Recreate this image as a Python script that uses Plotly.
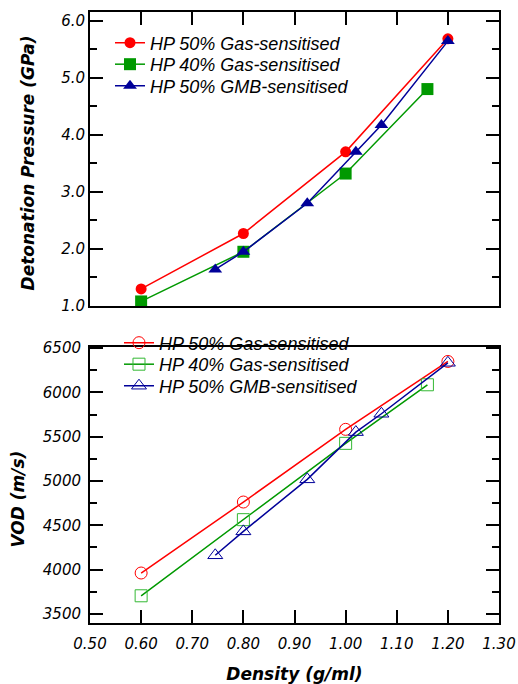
import plotly.graph_objects as go
from plotly.subplots import make_subplots

# ---- data ----
series_names = ["HP 50% Gas-sensitised", "HP 40% Gas-sensitised", "HP 50% GMB-sensitised"]

density_50gas = [0.60, 0.80, 1.00, 1.20]
density_40gas = [0.60, 0.80, 1.00, 1.16]
density_50gmb = [0.745, 0.80, 0.925, 1.02, 1.07, 1.20]

pressure_50gas = [1.30, 2.27, 3.70, 5.68]
pressure_40gas = [1.08, 1.95, 3.32, 4.80]
pressure_50gmb = [1.64, 1.95, 2.80, 3.70, 4.17, 5.64]

vod_50gas = [3962, 4763, 5583, 6349]
vod_40gas = [3705, 4564, 5425, 6086]
vod_50gmb = [4162, 4432, 5019, 5552, 5759, 6334]

x_ticks = [0.50, 0.60, 0.70, 0.80, 0.90, 1.00, 1.10, 1.20, 1.30]
p_ticks = [1.0, 2.0, 3.0, 4.0, 5.0, 6.0]
v_ticks = [3500, 4000, 4500, 5000, 5500, 6000, 6500]

RED = "#ff0000"
GREEN = "#009900"
BLUE = "#000099"

fig = make_subplots(rows=2, cols=1)

tick_font = dict(family="DejaVu Sans", size=15, color="black", style="italic")
def tfont(size):
    return dict(family="DejaVu Sans", size=size, color="black", style="italic", weight="bold")
leg_font = dict(family="Liberation Sans", size=18, color="black", style="italic")

# top panel (filled markers)
fig.add_trace(go.Scatter(x=density_50gas, y=pressure_50gas, name=series_names[0], mode="lines+markers",
                         line=dict(color=RED, width=1.5), marker=dict(symbol="circle", size=11, color=RED),
                         legend="legend"), row=1, col=1)
fig.add_trace(go.Scatter(x=density_40gas, y=pressure_40gas, name=series_names[1], mode="lines+markers",
                         line=dict(color=GREEN, width=1.5), marker=dict(symbol="square", size=12, color=GREEN),
                         legend="legend2"), row=1, col=1)
fig.add_trace(go.Scatter(x=density_50gmb, y=pressure_50gmb, name=series_names[2], mode="lines+markers",
                         line=dict(color=BLUE, width=1.5), marker=dict(symbol="triangle-up", size=12, color=BLUE),
                         legend="legend3"), row=1, col=1)

# bottom panel (open markers)
fig.add_trace(go.Scatter(x=density_50gas, y=vod_50gas, name=series_names[0], mode="lines+markers",
                         line=dict(color=RED, width=1.5),
                         marker=dict(symbol="circle-open", size=12, color=RED, line=dict(width=1)),
                         legend="legend4"), row=2, col=1)
fig.add_trace(go.Scatter(x=density_40gas, y=vod_40gas, name=series_names[1], mode="lines+markers",
                         line=dict(color=GREEN, width=1.5),
                         marker=dict(symbol="square-open", size=12, color="#33b833", line=dict(width=1)),
                         legend="legend5"), row=2, col=1)
fig.add_trace(go.Scatter(x=density_50gmb, y=vod_50gmb, name=series_names[2], mode="lines+markers",
                         line=dict(color=BLUE, width=1.5),
                         marker=dict(symbol="triangle-up-open", size=13, color=BLUE, line=dict(width=1)),
                         legend="legend6"), row=2, col=1)

common_axis = dict(showline=True, linecolor="black", linewidth=2, mirror=True, showgrid=False,
                   zeroline=False, ticks="inside", ticklen=13, tickwidth=1.5, tickcolor="black",
                   automargin=False)

fig.update_xaxes(**common_axis)
fig.update_yaxes(**common_axis)

def leg(x, y):
    return dict(x=x, y=y, xanchor="left", yanchor="middle", bgcolor="rgba(0,0,0,0)",
                font=leg_font, itemwidth=30)

fig.update_layout(
    width=518, height=684,
    margin=dict(l=90, r=19, t=12, b=61),
    paper_bgcolor="white", plot_bgcolor="white",
    xaxis=dict(domain=[0, 1], range=[0.5, 1.3], tickvals=x_ticks, side="top",
               showticklabels=False, mirror=True, anchor="y"),
    yaxis=dict(domain=[0.5188, 1.0], range=[1.0, 6.15], tickvals=p_ticks,
               ticktext=[f"{v:.1f}" for v in p_ticks], tickfont=tick_font, mirror="allticks",
               minor=dict(dtick=0.5, ticks="inside", ticklen=7, tickwidth=1.5, tickcolor="black")),
    xaxis2=dict(domain=[0, 1], range=[0.5, 1.3], tickvals=x_ticks, ticklabelstandoff=6,
                ticktext=[f"{v:.2f}" for v in x_ticks], tickfont=tick_font, anchor="y2",
                title=dict(text="Density (g/ml)", font=tfont(17), standoff=20)),
    yaxis2=dict(domain=[0, 0.4517], range=[3398, 6512], tickvals=v_ticks, ticklabelstandoff=4,
                ticktext=[str(v) for v in v_ticks], tickfont=tick_font, mirror="allticks",
                minor=dict(dtick=250, ticks="inside", ticklen=7, tickwidth=1.5, tickcolor="black")),
    legend=leg(0.0489, 0.9493),
    legend2=leg(0.0489, 0.9141),
    legend3=leg(0.0489, 0.8789),
    legend4=leg(0.0709, 0.4583),
    legend5=leg(0.0709, 0.4231),
    legend6=leg(0.0709, 0.3879),
    showlegend=True,
)

# y-axis titles placed as annotations (matching the reference positions)
fig.add_annotation(text="Detonation Pressure (GPa)", xref="paper", yref="paper",
                   x=-0.1516, y=0.7537, xanchor="center", yanchor="middle",
                   textangle=-90, showarrow=False, font=tfont(17))
fig.add_annotation(text="VOD (m/s)", xref="paper", yref="paper",
                   x=-0.176, y=0.2021, xanchor="center", yanchor="middle",
                   textangle=-90, showarrow=False, font=tfont(17))

fig.write_html("out.html", post_script="document.body.style.margin='0px';",
               config={"displayModeBar": False})
